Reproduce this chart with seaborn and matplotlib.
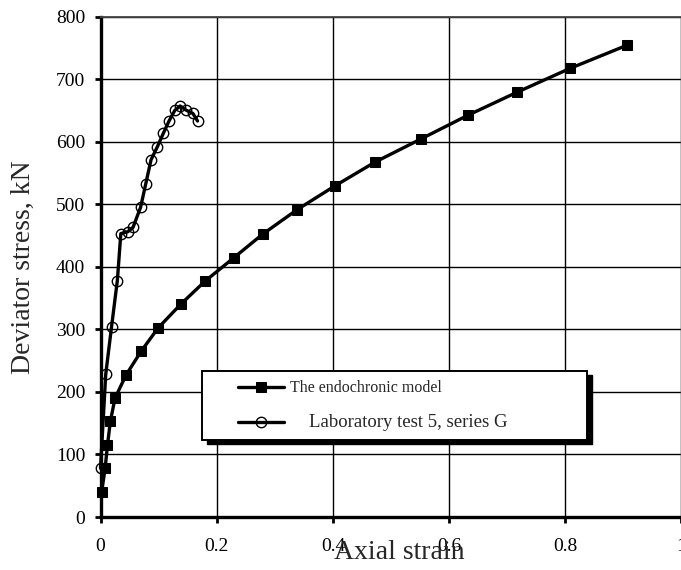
import matplotlib
matplotlib.use("Agg")
import matplotlib.pyplot as plt
import seaborn as sns
import pandas as pd
from matplotlib.patches import Rectangle

# Endochronic model prediction
model_strain = [0.002, 0.008, 0.012, 0.017, 0.025, 0.044, 0.070, 0.099, 0.138, 0.180,
                0.229, 0.279, 0.338, 0.403, 0.472, 0.551, 0.632, 0.717, 0.808, 0.906]
model_stress = [40, 78, 115, 153, 190, 227, 265, 302, 340, 377,
                414, 452, 491, 529, 567, 604, 642, 679, 717, 754]

# Laboratory test 5, series G
lab_strain = [0.0, 0.009, 0.019, 0.029, 0.035, 0.047, 0.056, 0.069, 0.078, 0.087,
              0.098, 0.108, 0.118, 0.128, 0.137, 0.148, 0.159, 0.167]
lab_stress = [78, 228, 304, 378, 453, 456, 463, 495, 533, 571,
              592, 613, 633, 650, 657, 650, 645, 633]

x_ticks = [0, 0.2, 0.4, 0.6, 0.8, 1]
x_tick_labels = ["0", "0.2", "0.4", "0.6", "0.8", "1"]
y_ticks = [0, 100, 200, 300, 400, 500, 600, 700, 800]

model_label = "The endochronic model"
lab_label = "    Laboratory test 5, series G"

sns.set_style("white")
plt.rcParams["font.family"] = ["Liberation Serif", "DejaVu Serif"]

W, H = 681, 570
fig = plt.figure(figsize=(W / 100, H / 100), dpi=100)
ax = fig.add_axes([100.5 / W, 53 / H, 581 / W, 500.5 / H])

model_df = pd.DataFrame({"strain": model_strain, "stress": model_stress})
lab_df = pd.DataFrame({"strain": lab_strain, "stress": lab_stress})

sns.lineplot(data=model_df, x="strain", y="stress", ax=ax, sort=False, estimator=None,
             color="black", linewidth=2.4, marker="s", markersize=6.5,
             markerfacecolor="black", markeredgecolor="black", label=model_label,
             zorder=3, clip_on=False)
sns.lineplot(data=lab_df, x="strain", y="stress", ax=ax, sort=False, estimator=None,
             color="black", linewidth=2.4, marker="o", markersize=7.5,
             markerfacecolor="none", markeredgecolor="black", markeredgewidth=1.0,
             label=lab_label, zorder=3, clip_on=False)

ax.set_xlim(0, 1)
ax.set_ylim(0, 800)
ax.set_xticks(x_ticks)
ax.set_xticklabels(x_tick_labels)
ax.set_yticks(y_ticks)

ax.grid(True, color="black", linewidth=1.0)
ax.set_axisbelow(True)

for side in ("left", "bottom"):
    ax.spines[side].set_color("black")
    ax.spines[side].set_linewidth(2.4)
ax.spines["top"].set_color("#444444")
ax.spines["top"].set_linewidth(1.3)
ax.spines["right"].set_color("#999999")
ax.spines["right"].set_linewidth(1.0)

ax.tick_params(axis="both", direction="out", length=4, width=2, color="black",
               labelsize=14, labelcolor="black")
ax.tick_params(axis="y", pad=7)
ax.tick_params(axis="x", pad=11)
ax.tick_params(bottom=True, left=True)

ax.set_xlabel("Axial strain", fontsize=20)
ax.set_ylabel("Deviator stress, kN", fontsize=20)
ax.xaxis.set_label_coords(0.515, -0.046)
ax.yaxis.set_label_coords(-0.112, 0.5)

# Legend box with a solid drop shadow
box_x0, box_y0, box_w, box_h = 202, 371, 385, 69
ax.add_patch(Rectangle(((box_x0 + 5) / W, 1 - (box_y0 + box_h + 4) / H), box_w / W, box_h / H,
                       transform=fig.transFigure, facecolor="black", edgecolor="black",
                       zorder=4, clip_on=False))
ax.add_patch(Rectangle((box_x0 / W, 1 - (box_y0 + box_h) / H), box_w / W, box_h / H,
                       transform=fig.transFigure, facecolor="white", edgecolor="black",
                       linewidth=1.4, zorder=4.5, clip_on=False))

leg = ax.legend(loc="upper left", bbox_to_anchor=(238 / W, 1 - 380 / H),
                bbox_transform=fig.transFigure, frameon=False, borderpad=0,
                borderaxespad=0, handlelength=3.0, handletextpad=0.4,
                labelspacing=1.2, fontsize=11)
leg.set_zorder(5)
texts = leg.get_texts()
texts[0].set_fontsize(11.5)
texts[1].set_fontsize(13.5)

fig.savefig("out.png", dpi=100)
